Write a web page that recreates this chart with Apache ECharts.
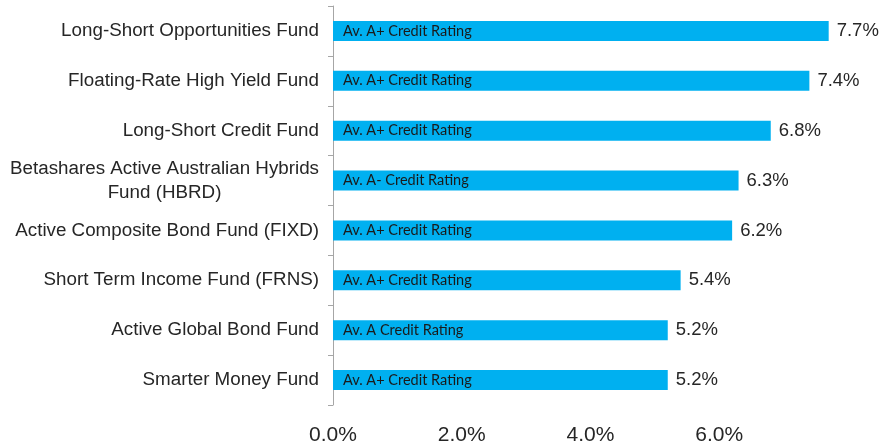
<!DOCTYPE html>
<html>
<head>
<meta charset="UTF-8">
<title>Fund yields</title>
<script src="https://cdn.jsdelivr.net/npm/echarts@6/dist/echarts.min.js"></script>
<style>
	html, body { margin: 0; padding: 0; background: #fff; }
</style>
</head>
<body>
	<div id="main" style="width: 879px; height: 446px;"></div>

	<script type="text/javascript">
		// fund names, top to bottom
		var funds = [
			'Long-Short Opportunities Fund',
			'Floating-Rate High Yield Fund',
			'Long-Short Credit Fund',
			'Betashares Active Australian Hybrids\nFund (HBRD)',
			'Active Composite Bond Fund (FIXD)',
			'Short Term Income Fund (FRNS)',
			'Active Global Bond Fund',
			'Smarter Money Fund'
		];
		var yields = [7.7, 7.4, 6.8, 6.3, 6.2, 5.4, 5.2, 5.2];
		var ratings = [
			'Av. A+ Credit Rating',
			'Av. A+ Credit Rating',
			'Av. A+ Credit Rating',
			'Av. A- Credit Rating',
			'Av. A+ Credit Rating',
			'Av. A+ Credit Rating',
			'Av. A Credit Rating',
			'Av. A+ Credit Rating'
		];
		var xTicks = ['0.0%', '2.0%', '4.0%', '6.0%'];

		var myChart = echarts.init(document.getElementById('main'));

		myChart.setOption({
			animation: false,
			grid: { left: 333, right: 31, top: 6, bottom: 36 },
			xAxis: {
				type: 'value',
				min: 0,
				max: 8,
				interval: 2,
				splitLine: { show: false },
				axisLine: { show: false },
				axisTick: { show: false },
				axisLabel: {
					margin: 20,
					fontFamily: 'Liberation Sans, Arial',
					fontSize: 21,
					color: '#262626',
					formatter: function (v) {
						var i = Math.round(v / 2);
						return i < xTicks.length ? xTicks[i] : '';
					}
				}
			},
			yAxis: {
				type: 'category',
				inverse: true,
				data: funds,
				axisLine: { show: true, lineStyle: { color: '#a6a6a6', width: 1 } },
				axisTick: { show: true, length: 5, lineStyle: { color: '#a6a6a6', width: 1 } },
				axisLabel: {
					margin: 14,
					fontFamily: 'Liberation Sans, Arial',
					fontSize: 18.8,
					color: '#262626',
					lineHeight: 24,
					formatter: function (v) {
						return v.split('\n').map(function (s) {
							return '{c|' + s + '}';
						}).join('\n');
					},
					rich: {
						c: {
							align: 'center',
							fontFamily: 'Liberation Sans, Arial',
							fontSize: 18.8,
							color: '#262626',
							lineHeight: 24
						}
					}
				}
			},
			series: [
				{
					type: 'bar',
					data: yields,
					barWidth: 20,
					itemStyle: { color: '#00B0F0' },
					label: {
						show: true,
						position: 'right',
						distance: 8,
						fontFamily: 'Liberation Sans, Arial',
						fontSize: 18.5,
						color: '#262626',
						formatter: function (p) { return p.value.toFixed(1) + '%'; }
					}
				},
				{
					// rating text drawn inside each bar
					type: 'bar',
					data: yields,
					barWidth: 20,
					barGap: '-100%',
					silent: true,
					itemStyle: { color: 'rgba(0,0,0,0)' },
					label: {
						show: true,
						position: 'insideLeft',
						distance: 10,
						fontFamily: 'Lato, Open Sans',
						fontSize: 14.5,
						color: '#1a1a1a',
						formatter: function (p) { return ratings[p.dataIndex]; }
					}
				}
			]
		});
	</script>
</body>
</html>
